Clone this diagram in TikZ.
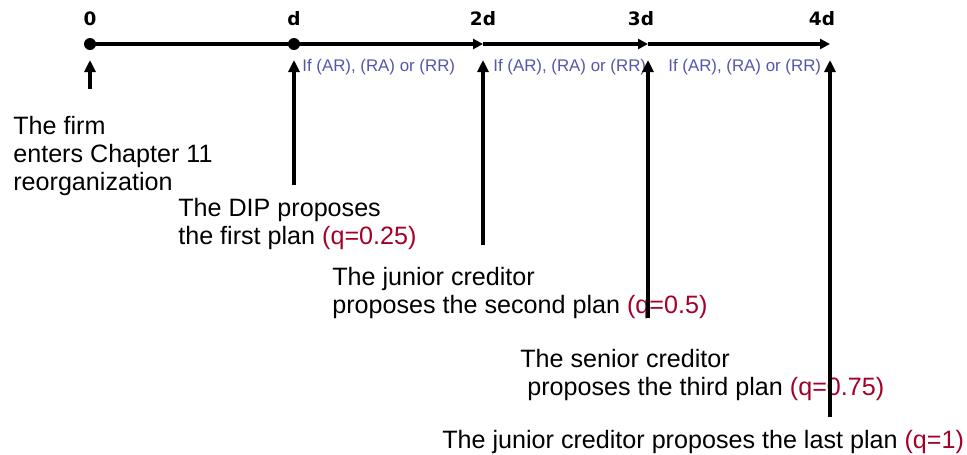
\documentclass[tikz,border=0pt]{standalone}
\usepackage{fontspec}
\setmainfont{Liberation Sans}
\newfontfamily\tickfont{DejaVu Sans}
\usetikzlibrary{arrows.meta}
\definecolor{condblue}{RGB}{85,85,170}
\definecolor{qred}{RGB}{165,0,40}
\newcommand{\qval}[1]{\textcolor{qred}{#1}}

\begin{document}
\begin{tikzpicture}[
      x=0.02cm, y=-0.02cm,
      axis/.style={line width=2pt, -{Triangle[length=0.2cm,width=0.2cm]}},
      uparrow/.style={line width=2pt, -{Triangle[length=0.24cm,width=0.22cm]}, shorten >=0.32cm},
      dot/.style={circle, fill=black, inner sep=0pt, minimum size=0.24cm},
      tick/.style={font=\tickfont\bfseries\fontsize{10.5}{12}\selectfont, anchor=base, inner sep=0pt},
      cond/.style={font=\fontsize{9.6}{11}\selectfont, text=condblue, anchor=base west, inner sep=0pt},
      event/.style={font=\fontsize{14.3}{15.9}\selectfont, align=left, anchor=north west, inner sep=0pt}
    ]
    \useasboundingbox (0,0) rectangle (967,454);

    % Puntos del eje de tiempo
    \coordinate (p0) at (90,44);
    \coordinate (p1) at (294,44);
    \coordinate (p2) at (483,44);
    \coordinate (p3) at (648,44);
    \coordinate (p4) at (830,44);

    % Eje
    \draw[axis] (p0) -- (p2);
    \draw[axis] (p2) -- (p3);
    \draw[axis] (p3) -- (p4);
    \node[dot] (d0) at (p0) {};
    \node[dot] (d1) at (p1) {};

    % Marcas
    \node[tick] (t0) at (90,25) {0};
    \node[tick] (t1) at (294,25) {d};
    \node[tick] (t2) at (483,25) {2d};
    \node[tick] (t3) at (641,25) {3d};
    \node[tick] (t4) at (822,25) {4d};

    % Condiciones
    \node[cond] (c1) at (302,71) {If (AR), (RA) or (RR)};
    \node[cond] (c2) at (493,71) {If (AR), (RA) or (RR)};
    \node[cond] (c3) at (668,71) {If (AR), (RA) or (RR)};

    % Eventos
    \node[event] (firm) at (13,116) {The firm\\enters Chapter 11\\reorganization};
    \node[event] (dip) at (178,198) {The DIP proposes\\the first plan \qval{(q=0.25)}};
    \node[event] (junior) at (332,267) {The junior creditor\\proposes the second plan \qval{(q=0.5)}};
    \node[event] (senior) at (520,349) {The senior creditor\\\hspace{0.14cm}proposes the third plan \qval{(q=0.75)}};
    \node[event] (last) at (442,430) {The junior creditor proposes the last plan \qval{(q=1)}};

    % Flechas verticales
    \coordinate (f0) at (90,89);
    \coordinate (f1) at (294,185);
    \coordinate (f2) at (483,245);
    \coordinate (f3) at (648,318);
    \coordinate (f4) at (830,417);
    \draw[uparrow] (f0) -- (p0);
    \draw[uparrow] (f1) -- (p1);
    \draw[uparrow] (f2) -- (p2);
    \draw[uparrow] (f3) -- (p3);
    \draw[uparrow] (f4) -- (p4);

  \end{tikzpicture}
\end{document}
